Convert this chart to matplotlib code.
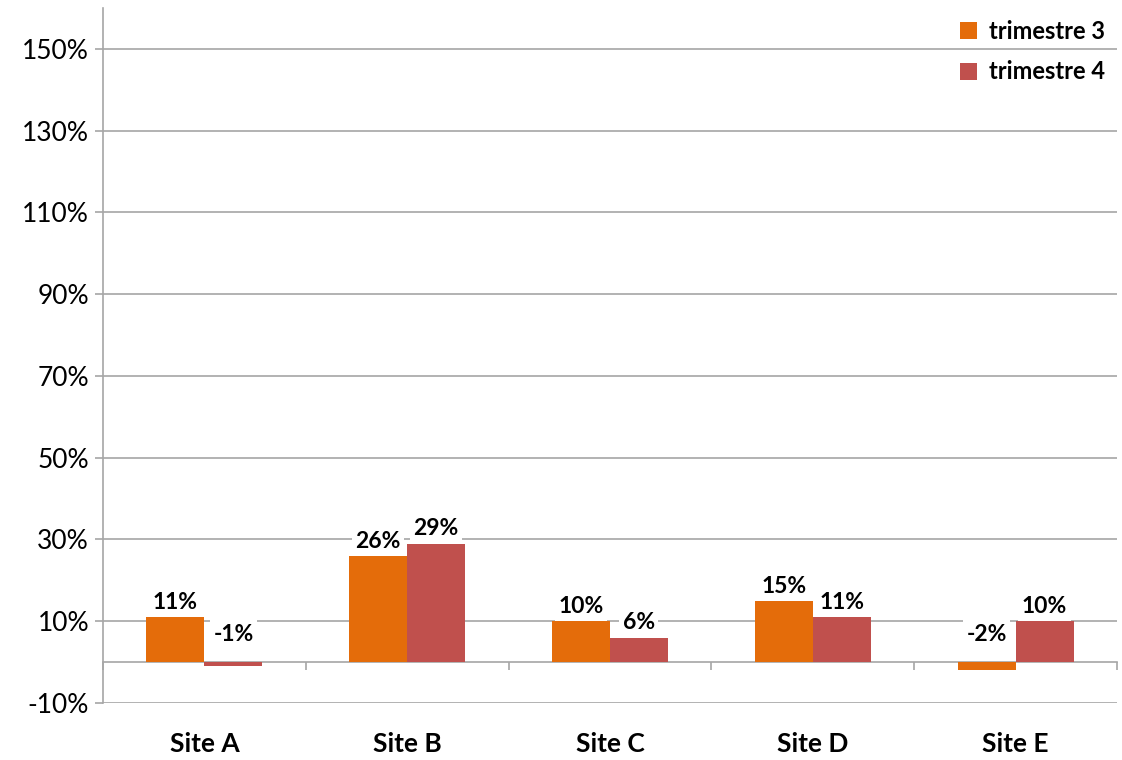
import numpy as np
import matplotlib
matplotlib.use('Agg')
import matplotlib.pyplot as plt
from matplotlib.ticker import FixedLocator

plt.rcParams['font.family'] = ['Lato', 'DejaVu Sans']

# chart data
sites = ['Site A', 'Site B', 'Site C', 'Site D', 'Site E']
series_names = ['trimestre 3', 'trimestre 4']
q3_values = [11, 26, 10, 15, -2]
q4_values = [-1, 29, 6, 11, 10]
y_ticks = [-10, 10, 30, 50, 70, 90, 110, 130, 150]

colors = ['#E46C0A', '#C0504D']
grid_color = '#A6A6A6'

fig = plt.figure(figsize=(11.22, 7.6), dpi=100)
ax = fig.add_axes([0.0918, 0.075, 0.9037, 0.9145])

x = np.arange(len(sites))
width = 0.286

label_box = dict(boxstyle='square,pad=0.15', fc='white', ec='none')
for offset, vals, name, col in zip([-width / 2, width / 2], [q3_values, q4_values],
                                   series_names, colors):
    bars = ax.bar(x + offset, vals, width, color=col, label=name, zorder=3)
    for rect, v in zip(bars, vals):
        cx = rect.get_x() + rect.get_width() / 2
        if v >= 0:
            ax.annotate(f'{v}%', xy=(cx, v), xytext=(0, 3), textcoords='offset points',
                        ha='center', va='bottom', fontsize=16.5, fontweight='bold',
                        bbox=label_box, zorder=4)
        else:
            # negative labels sit above the zero line
            ax.annotate(f'{v}%', xy=(cx, 0), xytext=(0, 20), textcoords='offset points',
                        ha='center', va='center', fontsize=16.5, fontweight='bold',
                        bbox=label_box, zorder=4)

ax.set_xlim(-0.5, len(sites) - 0.5)
ax.set_ylim(-10, 160)
ax.set_yticks(y_ticks)
ax.set_yticklabels([f'{t}%' for t in y_ticks], fontsize=19)
ax.yaxis.grid(True, color=grid_color, linewidth=1.2, zorder=0)
ax.set_axisbelow(True)

# category axis crosses at zero
ax.spines['bottom'].set_position(('data', 0))
ax.spines['bottom'].set_color(grid_color)
ax.spines['bottom'].set_linewidth(1.2)
ax.spines['left'].set_color(grid_color)
ax.spines['left'].set_linewidth(1.2)
ax.spines['top'].set_visible(False)
ax.spines['right'].set_visible(False)

ax.set_xticks(x)
ax.set_xticklabels(sites, fontsize=19, fontweight='bold')
ax.tick_params(axis='x', which='major', length=0, pad=50)
ax.xaxis.set_minor_locator(FixedLocator(np.arange(len(sites) + 1) - 0.5))
ax.tick_params(axis='x', which='minor', length=6, color=grid_color, width=1.2)
ax.tick_params(axis='y', length=6, color=grid_color, width=1.2, pad=4)

ax.legend(loc='upper right', frameon=False,
          prop={'weight': 'bold', 'size': 17},
          handlelength=0.75, handleheight=0.75, handletextpad=0.5,
          labelspacing=0.75, borderaxespad=0.1)

fig.savefig('out.png', dpi=100)
